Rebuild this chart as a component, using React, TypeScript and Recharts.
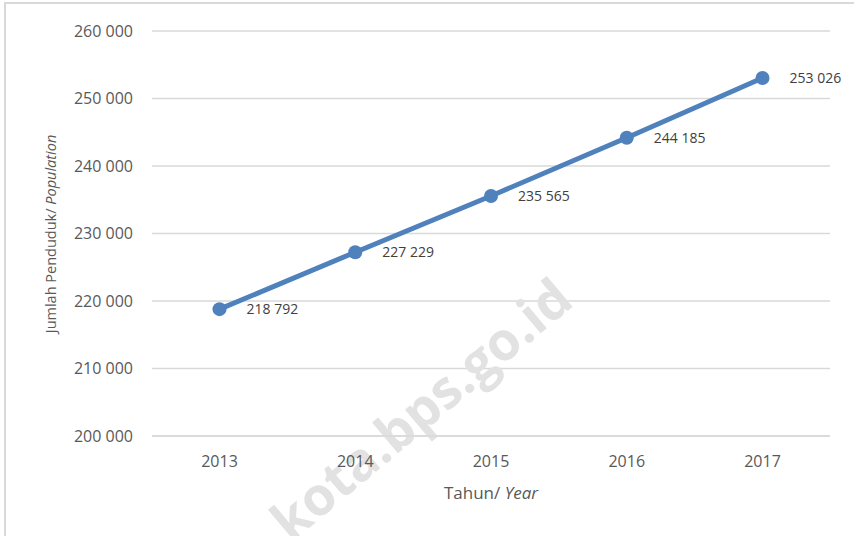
import React from 'react';
import {
  LineChart,
  Line,
  XAxis,
  YAxis,
  CartesianGrid,
  LabelList,
  Label
} from 'recharts';

const years = ['2013', '2014', '2015', '2016', '2017'];
const population = [218792, 227229, 235565, 244185, 253026];
const yTicks = [200000, 210000, 220000, 230000, 240000, 250000, 260000];

const data = years.map((year, i) => ({ year, population: population[i] }));

const FONT = '"Open Sans", "Noto Sans", sans-serif';

const formatNumber = (v: number) => {
  const thousands = Math.floor(v / 1000);
  const rest = String(v % 1000).padStart(3, '0');
  return `${thousands} ${rest}`;
};

const XTitle = (props: any) => {
  const { viewBox } = props;
  const cx = viewBox.x + viewBox.width / 2;
  return (
    <text x={cx} y={viewBox.y + 63} textAnchor="middle" fill="#595959" fontSize={17} fontFamily={FONT}>
      <tspan>Tahun/ </tspan>
      <tspan fontStyle="italic">Year</tspan>
    </text>
  );
};

const YTitle = () => {
  const cx = 50;
  const cy = 234;
  return (
    <text
      x={cx}
      y={cy}
      textAnchor="middle"
      dominantBaseline="central"
      transform={`rotate(-90 ${cx} ${cy})`}
      fill="#595959"
      fontSize={14.5}
      fontFamily={FONT}
    >
      <tspan>Jumlah Penduduk/ </tspan>
      <tspan fontStyle="italic">Population</tspan>
    </text>
  );
};

export default function App() {
  return (
    <div style={{ position: 'absolute', left: 0, top: 0, width: 854, height: 536, background: '#fff', overflow: 'hidden' }}>
      <div
        style={{
          position: 'absolute',
          left: 4,
          top: 2,
          width: 900,
          height: 600,
          borderLeft: '2px solid #d9d9d9',
          borderTop: '2px solid #d9d9d9'
        }}
      />
      <LineChart
        width={854}
        height={536}
        data={data}
        margin={{ top: 31, right: 24, left: 20, bottom: 0 }}
        style={{ position: 'absolute', left: 0, top: 0 }}
      >
        <CartesianGrid vertical={false} stroke="#d9d9d9" strokeWidth={1.5} />
        <text
          x={420}
          y={408}
          textAnchor="middle"
          dominantBaseline="central"
          transform="rotate(-40 420 408)"
          fill="#e2e2e2"
          fontSize={53}
          fontWeight="bold"
          fontFamily={FONT}
        >
          kota.bps.go.id
        </text>
        <XAxis
          dataKey="year"
          padding={{ left: 67.5, right: 67.5 }}
          axisLine={{ stroke: '#d9d9d9', strokeWidth: 1.5 }}
          tickLine={false}
          tickSize={0}
          tickMargin={20}
          height={100}
          tick={{ fill: '#595959', fontSize: 16, fontFamily: FONT }}
        >
          <Label content={XTitle} />
        </XAxis>
        <YAxis
          domain={[200000, 260000]}
          ticks={yTicks}
          axisLine={false}
          tickLine={false}
          tickSize={0}
          tickMargin={19}
          width={132}
          tickFormatter={formatNumber}
          tick={{ fill: '#595959', fontSize: 16, fontFamily: FONT }}
        >
          <Label content={YTitle} />
        </YAxis>
        <Line
          type="linear"
          dataKey="population"
          stroke="#4f81bd"
          strokeWidth={5}
          dot={{ r: 7, fill: '#4f81bd', stroke: '#4f81bd', strokeWidth: 0 }}
          activeDot={false}
          isAnimationActive={false}
        >
          <LabelList
            dataKey="population"
            position="right"
            offset={27}
            formatter={(v: any) => formatNumber(Number(v))}
            fill="#404040"
            fontSize={14}
            fontFamily={FONT}
          />
        </Line>
      </LineChart>
    </div>
  );
}
